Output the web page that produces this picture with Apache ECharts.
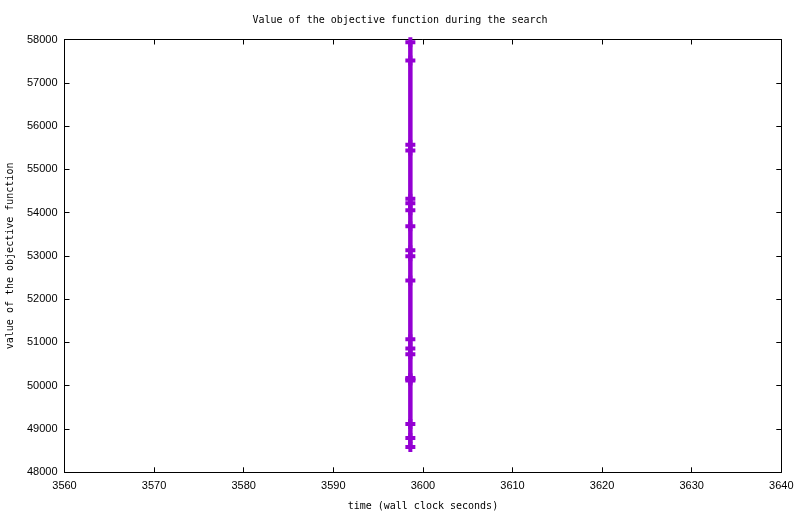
<!DOCTYPE html>
<html>
<head>
<meta charset="utf-8">
<script src="https://cdn.jsdelivr.net/npm/echarts@6/dist/echarts.min.js"></script>
<style>
  html, body { margin: 0; padding: 0; background: #fff; }
  #chart { width: 800px; height: 514px; }
</style>
</head>
<body>
<div id="chart"></div>
<script>
// wall clock time of each evaluation (all logged at the same second)
const times = [3598.6, 3598.6, 3598.6, 3598.6, 3598.6, 3598.6, 3598.6, 3598.6, 3598.6, 3598.6,
               3598.6, 3598.6, 3598.6, 3598.6, 3598.6, 3598.6, 3598.6, 3598.6, 3598.6, 3598.6];
// objective function values
const objective = [57938, 57514, 55569, 55438, 54319, 54215, 54053, 53683, 53132, 52993,
                   52431, 51072, 50863, 50725, 50180, 50150, 50120, 49118, 48794, 48586];

const xTicks = { min: 3560, max: 3640, interval: 10 };
const yTicks = { min: 48000, max: 58000, interval: 1000 };

const mono = 'DejaVu Sans Mono';
const sans = 'Liberation Sans';
const plus = 'path://M0,3H10V7H0Z M3,0H7V10H3Z';

const chart = echarts.init(document.getElementById('chart'));

const baseAxis = {
    type: 'value',
    axisLine: { show: true, onZero: false, lineStyle: { color: '#000', width: 1 } },
    axisTick: { show: true, inside: true, length: 5, lineStyle: { color: '#000' } },
    splitLine: { show: false }
};

chart.setOption({
    animation: false,
    title: {
        text: 'Value of the objective function during the search',
        left: 'center',
        top: 10,
        textStyle: { fontFamily: mono, fontSize: 10, fontWeight: 'normal', color: '#000' }
    },
    grid: { left: 64.5, right: 18.7, top: 39.5, bottom: 41.7, containLabel: false, outerBoundsMode: 'none' },
    xAxis: [
        Object.assign({}, baseAxis, {
            position: 'bottom',
            min: xTicks.min, max: xTicks.max, interval: xTicks.interval,
            name: 'time (wall clock seconds)',
            nameLocation: 'middle',
            nameGap: 29,
            nameTextStyle: { fontFamily: mono, fontSize: 10, color: '#000' },
            axisLabel: { fontFamily: sans, fontSize: 11, color: '#000', margin: 8, formatter: v => String(v) }
        }),
        Object.assign({}, baseAxis, {
            position: 'top',
            min: xTicks.min, max: xTicks.max, interval: xTicks.interval,
            axisLabel: { show: false }
        })
    ],
    yAxis: [
        Object.assign({}, baseAxis, {
            position: 'left',
            min: yTicks.min, max: yTicks.max, interval: yTicks.interval,
            name: 'value of the objective function',
            nameLocation: 'middle',
            nameGap: 49.5,
            nameTextStyle: { fontFamily: mono, fontSize: 10, color: '#000' },
            axisLabel: { fontFamily: sans, fontSize: 11, color: '#000', margin: 7, formatter: v => String(v) }
        }),
        Object.assign({}, baseAxis, {
            position: 'right',
            min: yTicks.min, max: yTicks.max, interval: yTicks.interval,
            axisLabel: { show: false }
        })
    ],
    series: [{
        type: 'line',
        data: objective.map((v, i) => [times[i], v]),
        symbol: plus,
        symbolSize: [10, 10],
        showAllSymbol: true,
        lineStyle: { color: '#9400d3', width: 4.5 },
        itemStyle: { color: '#9400d3' }
    }]
});
</script>
</body>
</html>
